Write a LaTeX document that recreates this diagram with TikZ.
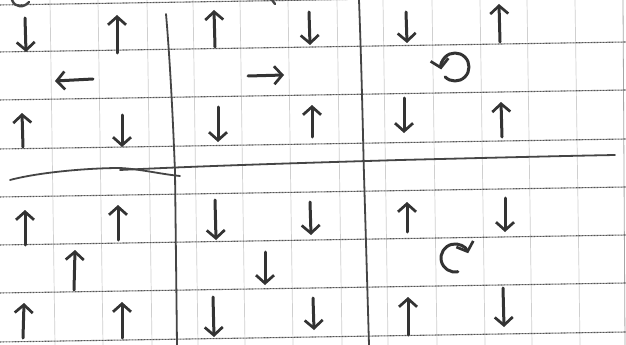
\documentclass[tikz,border=0pt]{standalone}
\usetikzlibrary{arrows.meta}
\definecolor{ink}{HTML}{333333}
\definecolor{pen}{HTML}{454545}
\definecolor{gridv}{HTML}{CFCFCF}
\definecolor{gridh}{HTML}{555555}
\tikzset{
  handarrow/.style={draw=ink, line width=3pt, line cap=round, line join=round,
    -{Straight Barb[length=8pt,width=18pt,line width=2.7pt]}},
  penline/.style={draw=pen, line width=1.8pt, line cap=round},
  vgrid/.style={draw=gridv, line width=0.7pt},
  hgrid/.style={draw=gridh, line width=1.1pt, dash pattern=on 0.9pt off 0.6pt},
}
\begin{document}
\begin{tikzpicture}[x=1pt,y=-1pt]
\useasboundingbox (0,0) rectangle (626,345);
\fill[white] (0,0) rectangle (626,345);
\begin{scope}
\clip (0,0) rectangle (626,345);
% faint vertical grid
\foreach \gx in {50,98,147,193,240,288,337,383,432,480,527,575}
  \draw[vgrid] (\gx,0) -- (\gx+5,345);
\draw[draw=gray!70, line width=0.8pt] (623,0) -- (625,345);
% dotted horizontal lines (slightly tilted)
\foreach \gy in {5,52,100,149,197,245,293,342}
  \draw[hgrid] (0,\gy) -- (626,\gy-10);
% heavy hand-drawn separators
\draw[penline] (166,14) .. controls (170,60) and (173,120) .. (175,172) -- (177,345);
\draw[penline] (359,0) .. controls (362,80) and (363,140) .. (364,175) -- (369,345);
\draw[penline] (10,180) .. controls (40,172) and (90,168) .. (120,168)
                      .. controls (140,169) and (160,174) .. (180,176);
\draw[penline] (120,170) .. controls (200,166) and (300,163) .. (400,160)
                        .. controls (480,158) and (560,156) .. (615,155);
% fragments at the top edge
\draw[penline, line width=2.4pt] (12,0) .. controls (15,8) and (24,8) .. (29,2);
\draw[penline, line width=2.4pt] (272,0) -- (275,4);
% row 1
\draw[handarrow] (25,18) -- (26,52);
\draw[handarrow] (117,53) -- (117,15);
\draw[handarrow] (215,47) -- (214,10);
\draw[handarrow] (309,12) -- (310,45);
\draw[handarrow] (406,12) -- (407,43);
\draw[handarrow] (500,42) -- (499,4);
% row 2
\draw[handarrow] (93,79) -- (55,81);
\draw[handarrow] (248,76) -- (284,75);
\draw[handarrow] (455,67) ++(135:14) arc[start angle=135, end angle=-190, radius=14];
% row 3
\draw[handarrow] (23,147) -- (22,113);
\draw[handarrow] (122,115) -- (122,147);
\draw[handarrow] (218,107) -- (218,142);
\draw[handarrow] (312,137) -- (312,105);
\draw[handarrow] (404,98) -- (404,133);
\draw[handarrow] (502,137) -- (501,102);
% row 4
\draw[handarrow] (25,245) -- (25,210);
\draw[handarrow] (118,240) -- (118,205);
\draw[handarrow] (215,200) -- (216,240);
\draw[handarrow] (310,202) -- (311,235);
\draw[handarrow] (407,232) -- (407,202);
\draw[handarrow] (505,198) -- (505,232);
% row 5
\draw[handarrow] (74,290) -- (75,250);
\draw[handarrow] (265,252) -- (265,285);
\draw[handarrow] (455,258) ++(78:14) arc[start angle=78, end angle=340, radius=14];
% row 6
\draw[handarrow] (23,338) -- (24,303);
\draw[handarrow] (122,338) -- (122,302);
\draw[handarrow] (213,297) -- (214,337);
\draw[handarrow] (313,298) -- (314,330);
\draw[handarrow] (408,335) -- (408,297);
\draw[handarrow] (503,288) -- (504,327);
\end{scope}
\end{tikzpicture}
\end{document}
